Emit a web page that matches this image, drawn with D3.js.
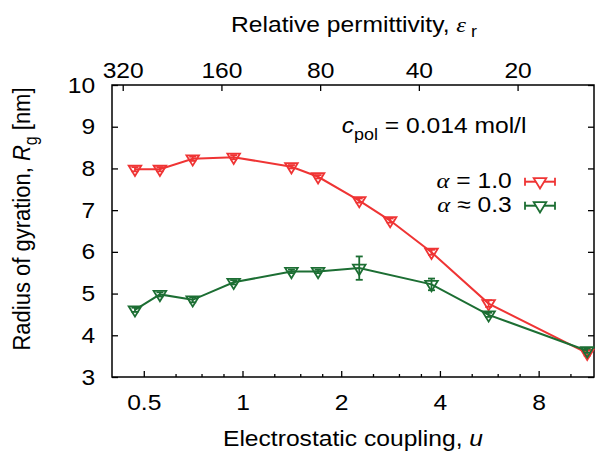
<!DOCTYPE html>
<html><head><meta charset="utf-8">
<script src="https://cdn.jsdelivr.net/npm/d3@7"></script>
<style>
body{margin:0;background:#fff;}
svg{display:block;}
text{font-family:"Liberation Sans",Arial,Helvetica,sans-serif;font-size:22px;fill:#000;}
.sym{font-family:"Liberation Serif","Times New Roman",serif;font-style:italic;}
</style></head>
<body>
<svg id="c" width="597" height="451"></svg>
<script>
// ---- data ----
const uRed   = [0.47, 0.56, 0.705, 0.94, 1.41, 1.70, 2.27, 2.82, 3.77, 5.63, 11.25];
const rgRed  = [7.98, 7.98, 8.23, 8.27, 8.04, 7.80, 7.23, 6.75, 5.99, 4.76, 3.57];
const errRed = [0.05, 0.05, 0.05, 0.05, 0.04, 0.04, 0.05, 0.05, 0.06, 0.08, 0.06];
const uGreen   = [0.47, 0.56, 0.705, 0.94, 1.41, 1.70, 2.27, 3.77, 5.63, 11.25];
const rgGreen  = [4.61, 4.98, 4.85, 5.27, 5.53, 5.53, 5.61, 5.22, 4.49, 3.63];
const errGreen = [0.05, 0.05, 0.06, 0.05, 0.04, 0.04, 0.28, 0.14, 0.05, 0.05];
const xTicks = [0.5, 1, 2, 4, 8];
const xMinorTicks = [0.625, 0.75, 0.875, 1.25, 1.5, 1.75, 2.5, 3, 3.5, 5, 6, 7, 10];
const yTicks = [3, 4, 5, 6, 7, 8, 9, 10];
const epsTicks = [320, 160, 80, 40, 20];
const K = 138; // u = K / eps_r

const RED = "#ef3434", GREEN = "#1c6e33";
const SX = 1.12;
const L = 112, R = 594, T = 85, B = 377;

const svg = d3.select("#c");
const x = d3.scaleLog().base(2).domain([0.4, 11.8]).range([L, R]);
const xTop = d3.scaleLog().domain([K / 0.4, K / 11.8]).range([L, R]);
const y = d3.scaleLinear().domain([3, 10]).range([B, T]);

function styleAxis(g) {
  g.select(".domain").remove();
  g.selectAll(".tick line").attr("stroke", "#000").attr("stroke-width", 1.3);
  g.selectAll(".tick text").attr("font-size", 22).attr("font-family", null)
    .attr("transform", `scale(${SX},1)`);
}

// axes
svg.append("g").attr("transform", `translate(0,${B})`)
  .call(d3.axisBottom(x).tickValues(xTicks).tickFormat(d => d).tickSize(-6).tickSizeOuter(0).tickPadding(17))
  .call(styleAxis);
svg.append("g").attr("transform", `translate(0,${B})`)
  .call(d3.axisBottom(x).tickValues(xMinorTicks).tickFormat("").tickSize(-3).tickSizeOuter(0))
  .call(styleAxis);
svg.append("g").attr("transform", `translate(0,${T})`)
  .call(d3.axisTop(xTop).tickValues(epsTicks).tickFormat(d => d).tickSize(-6).tickSizeOuter(0).tickPadding(7))
  .call(styleAxis);
svg.append("g").attr("transform", `translate(${L},0)`)
  .call(d3.axisLeft(y).tickValues(yTicks).tickFormat(d => d).tickSize(-6).tickSizeOuter(0).tickPadding(15))
  .call(styleAxis);
svg.append("g").attr("transform", `translate(${R},0)`)
  .call(d3.axisRight(y).tickValues(yTicks).tickFormat("").tickSize(-6).tickSizeOuter(0))
  .call(styleAxis);

svg.append("rect").attr("x", L).attr("y", T).attr("width", R - L).attr("height", B - T)
  .attr("fill", "none").attr("stroke", "#000").attr("stroke-width", 1.5);

// series
const tri = "M-6.3,-3.5L6.3,-3.5L0,6.8Z";
function series(us, vs, es, color) {
  const g = svg.append("g");
  const pts = us.map((u, i) => ({u, v: vs[i], e: es[i]}));
  g.append("path").datum(pts)
    .attr("d", d3.line().x(d => x(d.u)).y(d => y(d.v)))
    .attr("fill", "none").attr("stroke", color).attr("stroke-width", 2);
  const eb = g.selectAll(".eb").data(pts).enter().append("g");
  eb.append("line").attr("x1", d => x(d.u)).attr("x2", d => x(d.u))
    .attr("y1", d => y(d.v - d.e)).attr("y2", d => y(d.v + d.e))
    .attr("stroke", color).attr("stroke-width", 1.8);
  [-1, 1].forEach(s => {
    eb.append("line").attr("x1", d => x(d.u) - 3.5).attr("x2", d => x(d.u) + 3.5)
      .attr("y1", d => y(d.v + s * d.e)).attr("y2", d => y(d.v + s * d.e))
      .attr("stroke", color).attr("stroke-width", 1.8);
  });
  g.selectAll(".m").data(pts).enter().append("path")
    .attr("d", tri).attr("transform", d => `translate(${x(d.u)},${y(d.v)})`)
    .attr("fill", "none").attr("stroke", color).attr("stroke-width", 1.8);
}
series(uRed, rgRed, errRed, RED);
series(uGreen, rgGreen, errGreen, GREEN);

// text helper
function label(xp, yp, anchor, parts, rot) {
  const g = svg.append("g").attr("transform",
    `translate(${xp},${yp}) scale(${SX},1)` + (rot ? ` rotate(${rot})` : ""));
  const t = g.append("text").attr("text-anchor", anchor);
  parts.forEach(p => {
    const ts = t.append("tspan").text(p.t);
    if (p.cls) ts.attr("class", p.cls);
    if (p.it) ts.attr("font-style", "italic");
    if (p.dy) ts.attr("dy", p.dy);
    if (p.fs) ts.attr("font-size", p.fs);
  });
  return t;
}

// axis titles
label(353, 446, "middle", [{t: "Electrostatic coupling, "}, {t: "u", it: true}]);
label(354, 32, "middle", [{t: "Relative permittivity, "}, {t: "ε", cls: "sym"}, {t: " r", dy: 5, fs: 16}]);
label(30, 219, "middle", [{t: "Radius of gyration, "}, {t: "R", it: true}, {t: "g", dy: 6, fs: 16}, {t: " [nm]", dy: -6}], -90);

// annotation
label(341.7, 133, "start", [{t: "c", it: true}, {t: "pol", dy: 7, fs: 16}, {t: " = 0.014 mol/l", dy: -7}]);

// legend
const legend = [
  {sym: "α", rest: " = 1.0", color: RED, y: 188, ly: 181.7},
  {sym: "α", rest: " ≈ 0.3", color: GREEN, y: 212, ly: 205.7}
];
legend.forEach(d => {
  label(511.7, d.y, "end", [{t: d.sym, cls: "sym"}, {t: d.rest}]);
  const g = svg.append("g");
  g.append("line").attr("x1", 525).attr("x2", 555).attr("y1", d.ly).attr("y2", d.ly)
    .attr("stroke", d.color).attr("stroke-width", 2);
  [525, 555].forEach(xx => g.append("line").attr("x1", xx).attr("x2", xx)
    .attr("y1", d.ly - 4).attr("y2", d.ly + 4).attr("stroke", d.color).attr("stroke-width", 1.8));
  g.append("path").attr("d", tri).attr("transform", `translate(540,${d.ly})`)
    .attr("fill", "#fff").attr("stroke", d.color).attr("stroke-width", 1.8);
});
</script>
</body></html>
